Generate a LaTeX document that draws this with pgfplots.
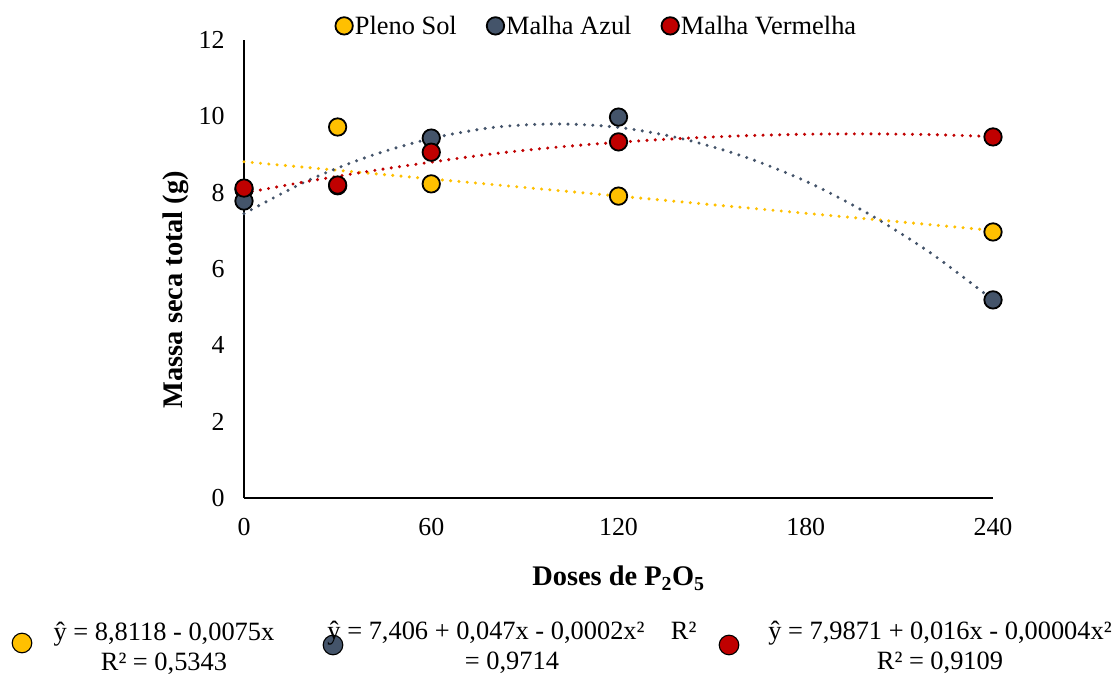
\documentclass[border=0pt]{standalone}
\usepackage{pgfplots}
\pgfplotsset{compat=1.18}
\usepackage{fontspec}
\setmainfont{Liberation Serif}
\definecolor{cY}{HTML}{FFC000}
\definecolor{cB}{HTML}{44546A}
\definecolor{cR}{HTML}{C00000}
\begin{document}
\begin{tikzpicture}[x=1bp,y=1bp]
\path[use as bounding box] (0,0) rectangle (1118,675);
\begin{axis}[
  at={(244bp,177bp)}, anchor=south west,
  scale only axis, width=749bp, height=458bp,
  xmin=0, xmax=240, ymin=0, ymax=12,
  axis lines*=left,
  axis line style={line width=1.4bp, black},
  xtick={0,60,120,180,240}, ytick={0,2,...,12},
  major tick length=0pt,
  /pgf/number format/assume math mode=true,
  tick label style={font=\fontsize{26}{30}\selectfont},
  xticklabel style={yshift=-17bp},
  yticklabel style={xshift=-16bp},
  xlabel={\textbf{Doses de P\textsubscript{2}O\textsubscript{5}}},
  ylabel={\textbf{Massa seca total (g)}},
  label style={font=\fontsize{28.5}{33}\selectfont},
  xlabel style={at={(axis description cs:0.5,-0.175)}, anchor=center},
  ylabel style={at={(axis description cs:-0.0915,0.455)}, anchor=center, rotate=0},
  legend columns=3,
  legend style={at={(axis description cs:0.471,1.0)}, anchor=south, yshift=0bp,
    draw=none, fill=none, font=\fontsize{26.5}{30}\selectfont,
    inner xsep=0pt,
    /tikz/every even column/.append style={column sep=28bp}},
  legend cell align=left,
  clip=false,
  trend/.style={line width=3.4bp, line cap=round, dash pattern=on 0pt off 8.3bp, smooth, forget plot},
]
% trend lines
\addplot[trend, cY] coordinates {(0,8.81) (240,7.01)};
\addplot[trend, cB] coordinates {(0,7.45) (20,8.30) (40,8.95) (60,9.42) (80,9.71) (100,9.80) (120,9.71) (140,9.42) (160,8.95) (180,8.30) (200,7.45) (220,6.42) (240,5.19)};
\addplot[trend, cR] coordinates {(0,7.99) (20,8.29) (40,8.56) (60,8.80) (80,9.02) (100,9.19) (120,9.32) (140,9.42) (160,9.49) (180,9.53) (200,9.54) (220,9.52) (240,9.47)};
% data points
\addplot[only marks, mark=*, mark size=8.7bp, mark options={draw=black, line width=1.8bp, fill=cY}] coordinates {(0,8.08) (30,9.72) (60,8.23) (120,7.91) (240,6.97)};
\addlegendentry{Pleno Sol}
\addplot[only marks, mark=*, mark size=8.7bp, mark options={draw=black, line width=1.8bp, fill=cB}] coordinates {(0,7.78) (30,8.18) (60,9.43) (120,9.98) (240,5.19)};
\addlegendentry{Malha Azul}
\addplot[only marks, mark=*, mark size=8.7bp, mark options={draw=black, line width=1.8bp, fill=cR}] coordinates {(0,8.12) (30,8.20) (60,9.06) (120,9.33) (240,9.46)};
\addlegendentry{Malha Vermelha}
\end{axis}
% equations below
\begin{scope}[every node/.style={font=\fontsize{26.5}{30}\selectfont, align=center}]
\draw[fill=cY, line width=1.1bp] (22,32) circle (9.8bp);
\draw[fill=cB, line width=1.1bp] (333,30) circle (9.8bp);
\draw[fill=cR, line width=1.1bp] (729,30) circle (9.8bp);
\node at (164,27) {ŷ = 8,8118 - 0,0075x\\R² = 0,5343};
\node at (512,28) {ŷ = 7,406 + 0,047x - 0,0002x²\quad R²\\= 0,9714};
\node at (940,28) {ŷ = 7,9871 + 0,016x - 0,00004x²\\R² = 0,9109};
\end{scope}
\end{tikzpicture}
\end{document}
